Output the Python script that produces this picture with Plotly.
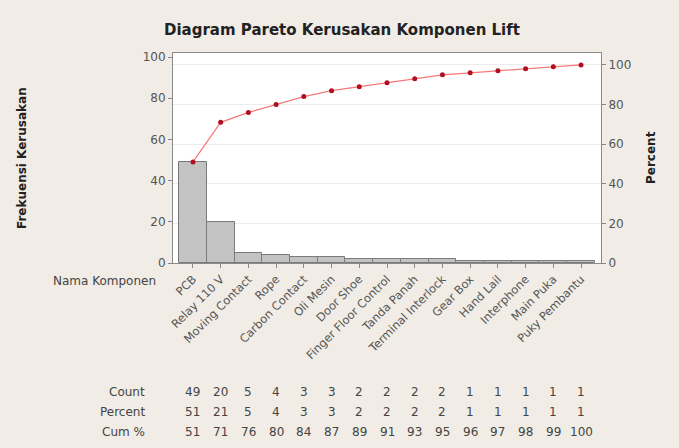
import plotly.graph_objects as go

categories = ["PCB", "Relay 110 V", "Moving Contact", "Rope", "Carbon Contact", "Oli Mesin",
              "Door Shoe", "Finger Floor Control", "Tanda Panah", "Terminal Interlock",
              "Gear Box", "Hand Lail", "Interphone", "Main Puka", "Puky Pembantu"]
counts = [49, 20, 5, 4, 3, 3, 2, 2, 2, 2, 1, 1, 1, 1, 1]
percent = [51, 21, 5, 4, 3, 3, 2, 2, 2, 2, 1, 1, 1, 1, 1]
cum_pct = [51, 71, 76, 80, 84, 87, 89, 91, 93, 95, 96, 97, 98, 99, 100]
row_labels = ["Count", "Percent", "Cum %"]

FONT = "DejaVu Sans"
W, H = 679, 448
L, R, T, B = 173, 601, 53, 263
ph = B - T

fig = go.Figure()
xs = list(range(len(categories)))
fig.add_trace(go.Bar(x=xs, y=counts, marker=dict(color="#c3c3c3", line=dict(color="#7a7a7a", width=1)),
                     width=1.0, showlegend=False, hoverinfo="skip"))
fig.add_trace(go.Scatter(x=xs, y=cum_pct, yaxis="y2", mode="lines+markers",
                         line=dict(color="#f47a7a", width=1.2),
                         marker=dict(color="#b01020", size=5), showlegend=False))

fig.update_layout(
    width=W, height=H,
    margin=dict(l=L, r=W - R, t=T, b=H - B, pad=0),
    paper_bgcolor="#f1ece5", plot_bgcolor="#ffffff",
    font=dict(family=FONT, size=12, color="#444444"),
    bargap=0,
    xaxis=dict(range=[-0.72, 14.72], tickmode="array", tickvals=xs, ticktext=categories,
               tickangle=-45, ticks="outside", ticklen=4, tickcolor="#888888",
               tickfont=dict(size=11.5, color="#555555"),
               showgrid=False, zeroline=False, showline=True, linecolor="#8a8a8a", mirror=True),
    yaxis=dict(range=[0, 102], tickvals=[0, 20, 40, 60, 80, 100], ticks="outside", ticklen=4,
               tickcolor="#888888", tickfont=dict(size=12, color="#555555"),
               showgrid=False, zeroline=False, showline=True, linecolor="#8a8a8a"),
    yaxis2=dict(range=[0, 106], overlaying="y", side="right", tickvals=[0, 20, 40, 60, 80, 100],
                ticks="outside", ticklen=4, tickcolor="#888888", tickfont=dict(size=12, color="#555555"),
                showgrid=True, gridcolor="#ececec", zeroline=False, showline=True, linecolor="#8a8a8a"),
)

anns = []
anns.append(dict(text="<b>Diagram Pareto Kerusakan Komponen Lift</b>", xref="paper", yref="paper",
                 x=(342 - L) / (R - L), y=(B - 30) / ph, showarrow=False,
                 font=dict(size=15, color="#222222", family=FONT), xanchor="center", yanchor="middle"))
anns.append(dict(text="<b>Frekuensi Kerusakan</b>", xref="paper", yref="paper",
                 x=(22 - L) / (R - L), y=(B - 158) / ph, showarrow=False, textangle=-90,
                 font=dict(size=12, color="#222222"), xanchor="center", yanchor="middle"))
anns.append(dict(text="<b>Percent</b>", xref="paper", yref="paper",
                 x=(651 - L) / (R - L), y=(B - 158) / ph, showarrow=False, textangle=-90,
                 font=dict(size=12, color="#222222"), xanchor="center", yanchor="middle"))
anns.append(dict(text="Nama Komponen", xref="paper", yref="paper",
                 x=(158 - L) / (R - L), y=(B - 281) / ph, showarrow=False,
                 font=dict(size=12, color="#444444"), xanchor="right", yanchor="middle"))

rows = [counts, percent, cum_pct]
row_y = [392, 412, 432]
for lbl, vals, yy in zip(row_labels, rows, row_y):
    anns.append(dict(text=lbl, xref="paper", yref="paper", x=(147 - L) / (R - L), y=(B - yy) / ph,
                     showarrow=False, xanchor="right", yanchor="middle",
                     font=dict(size=12, color="#444444")))
    for i, v in enumerate(vals):
        anns.append(dict(text=str(v), xref="x", yref="paper", x=i, y=(B - yy) / ph,
                         showarrow=False, xanchor="center", yanchor="middle",
                         font=dict(size=12, color="#444444")))
fig.update_layout(annotations=anns)

fig.write_html("out.html")
